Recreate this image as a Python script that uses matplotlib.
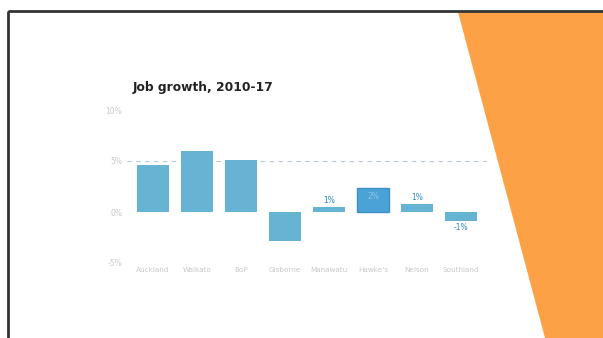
import matplotlib
matplotlib.use("Agg")
import matplotlib.pyplot as plt
from matplotlib.patches import Polygon, Rectangle

# data (labels are barely legible in the scan)
regions = ["Auckland", "Waikato", "BoP", "Gisborne", "Manawatu", "Hawke's", "Nelson", "Southland"]
growth = [4.6, 6.0, 5.1, -2.8, 0.5, 2.4, 0.8, -0.9]
shown_labels = ["", "", "", "", "1%", "2%", "1%", "-1%"]
yticks = [-5, 0, 5, 10]
ytick_labels = ["-5%", "0%", "5%", "10%"]

W, H = 603, 338
fig = plt.figure(figsize=(W / 100, H / 100), dpi=100)
fig.patch.set_facecolor("white")

# slide frame and orange corner
bg = fig.add_axes([0, 0, 1, 1])
bg.set_xlim(0, W)
bg.set_ylim(H, 0)
bg.axis("off")
bg.add_patch(Polygon([(458, 12), (603, 12), (603, 338), (545, 338)],
                     closed=True, color="#fda147", lw=0))
bg.add_patch(Rectangle((8, 11), 600, 340, fill=False, ec="#333333", lw=2))
bg.text(133, 88, "Job growth, 2010-17", fontsize=8.8, fontweight="bold",
        color="#222222", va="center", ha="left")

# chart area in pixel terms
left, right = 126.6, 126.6 + 8.2 * 44
top, bottom = 110, 263
ax = fig.add_axes([left / W, 1 - bottom / H, (right - left) / W, (bottom - top) / H])
ax.set_facecolor("none")

colors = ["#67b3d4"] * len(growth)
colors[5] = "#4aa2d6"
x = range(len(regions))
bars = ax.bar(x, growth, width=0.72, color=colors, zorder=3)
bars[5].set_edgecolor("#3b8fc4")
bars[5].set_linewidth(1)

ax.axhline(5, color="#b8c8d4", lw=0.8, ls=(0, (4, 4)), zorder=1)

for i, (v, lab) in enumerate(zip(growth, shown_labels)):
    if not lab:
        continue
    if i == 5:
        ax.text(i, v / 2 + 0.3, lab, ha="center", va="center", fontsize=5.5, color="#8fc5e6")
    elif v >= 0:
        ax.text(i, v + 0.2, lab, ha="center", va="bottom", fontsize=5.5, color="#2d8bc0")
    else:
        ax.text(i, v - 0.2, lab, ha="center", va="top", fontsize=5.5, color="#2d8bc0")

ax.set_xlim(-0.6, 7.6)
ax.set_ylim(-5, 10)
ax.set_yticks(yticks)
ax.set_yticklabels(ytick_labels, fontsize=5.5, color="#c8c8c8")
ax.set_xticks(list(x))
ax.set_xticklabels(regions, fontsize=5.2, color="#c8c8c8")
ax.tick_params(length=0, pad=3)
for s in ax.spines.values():
    s.set_visible(False)

fig.savefig("out.png", dpi=100)
